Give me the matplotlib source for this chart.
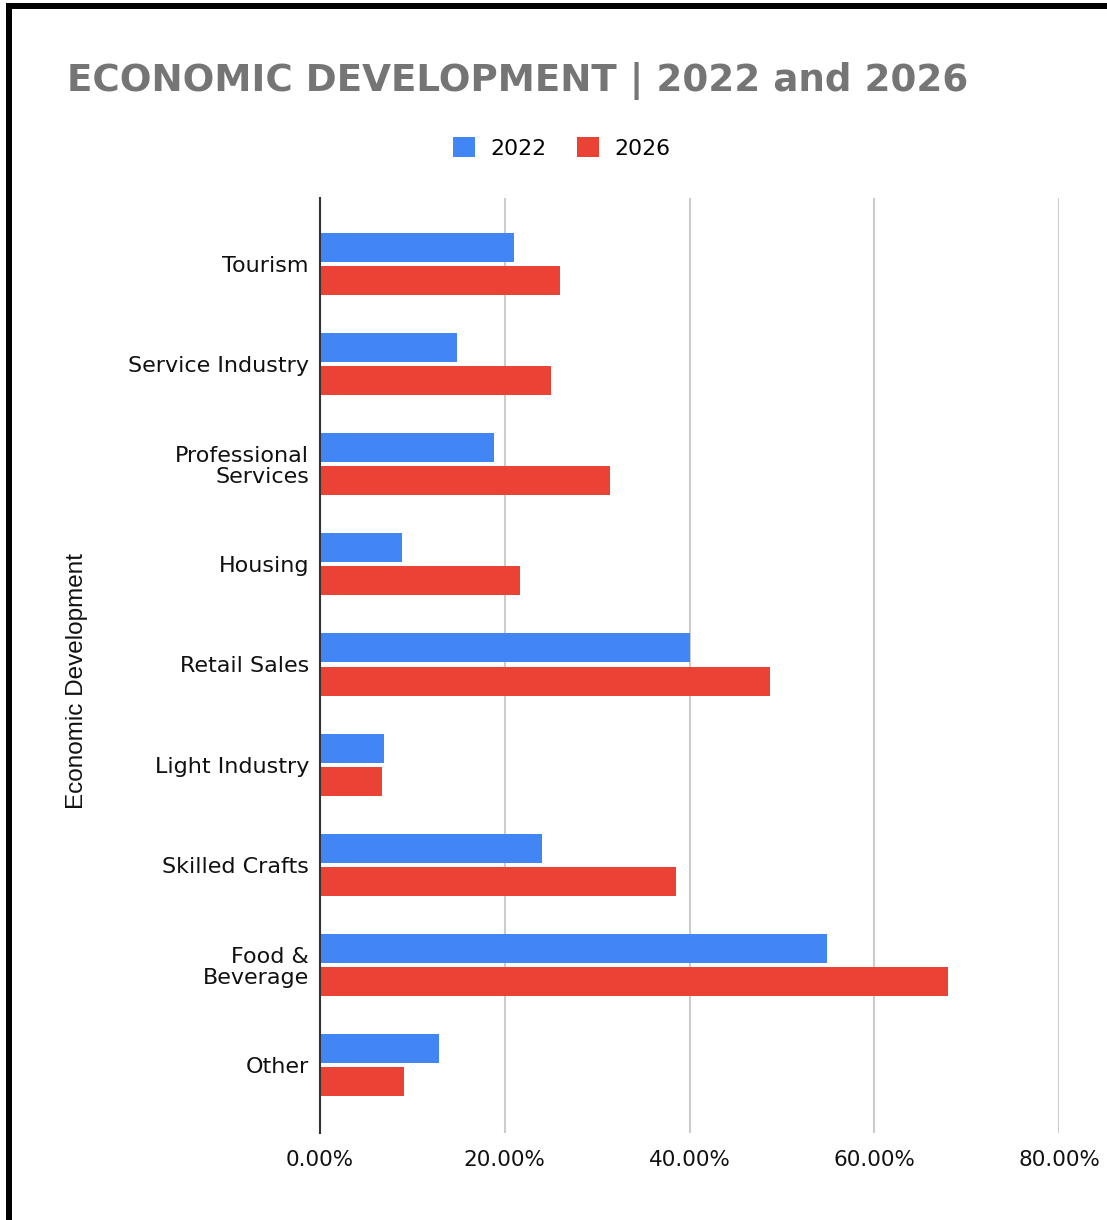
import matplotlib
matplotlib.use("Agg")
import matplotlib.pyplot as plt
from matplotlib.patches import Rectangle, Patch
from matplotlib.ticker import FuncFormatter
import numpy as np

# Sector data (share of respondents, %)
categories = ["Tourism", "Service Industry", "Professional\nServices", "Housing",
              "Retail Sales", "Light Industry", "Skilled Crafts", "Food &\nBeverage", "Other"]
values_2022 = [21.0, 14.8, 18.8, 8.9, 40.0, 6.9, 24.0, 54.9, 12.9]
values_2026 = [26.0, 25.0, 31.4, 21.7, 48.7, 6.7, 38.5, 68.0, 9.1]
series_labels = ["2022", "2026"]
x_ticks = [0, 20, 40, 60, 80]

BLUE = "#4285F4"
RED = "#EA4335"
W, H = 1107, 1220

fig = plt.figure(figsize=(W / 100, H / 100), dpi=100)
fig.patch.set_facecolor("white")

left, right, top, bottom = 320, 1059, 198, 1133
ax = fig.add_axes([left / W, 1 - bottom / H, (right - left) / W, (bottom - top) / H])

y = np.arange(len(categories))
bh = 0.29
off = 0.165
ax.barh(y - off, values_2022, height=bh, color=BLUE, zorder=3)
ax.barh(y + off, values_2026, height=bh, color=RED, zorder=3)

ax.set_xlim(0, 80)
ax.set_ylim(len(categories) - 1 + 0.68, -0.66)
ax.set_xticks(x_ticks)
ax.xaxis.set_major_formatter(FuncFormatter(lambda v, p: f"{v:.2f}%"))
ax.set_yticks(y)
ax.set_yticklabels(categories, fontsize=16, color="#111111", family="DejaVu Sans",
                   linespacing=1.05)
for lab in ax.get_xticklabels():
    lab.set_fontsize(15.5)
    lab.set_color("#111111")
ax.tick_params(axis="both", length=0)
ax.tick_params(axis="y", pad=8)
ax.tick_params(axis="x", pad=12)

ax.grid(axis="x", color="#cccccc", linewidth=1.5, zorder=0)
for s in ["top", "right", "bottom"]:
    ax.spines[s].set_visible(False)
ax.spines["left"].set_color("#333333")
ax.spines["left"].set_linewidth(1.5)
ax.spines["left"].set_zorder(4)

# Axis title
fig.text(77 / W, 1 - 681 / H, "Economic Development", rotation=90, ha="center", va="center",
         fontsize=17.5, family="Liberation Sans", color="#111111")

# Chart title
fig.text(67 / W, 1 - 81 / H, "ECONOMIC DEVELOPMENT | 2022 and 2026", ha="left", va="center",
         fontsize=26.8, fontweight="bold", color="#757575", family="DejaVu Sans")

# Legend
handles = [Patch(facecolor=BLUE, edgecolor="none"), Patch(facecolor=RED, edgecolor="none")]
fig.legend(handles, series_labels, loc="center", bbox_to_anchor=(562 / W, 1 - 148 / H),
           ncol=2, frameon=False, fontsize=15.8, handlelength=1.0, handleheight=1.0,
           handletextpad=0.7, columnspacing=1.4)

# Frame edges along the top and left
fig.add_artist(Rectangle((6 / W, 0), 6 / W, 1 - 3 / H, transform=fig.transFigure,
                         facecolor="black", edgecolor="none"))
fig.add_artist(Rectangle((6 / W, 1 - 9 / H), 1 - 6 / W, 6 / H, transform=fig.transFigure,
                         facecolor="black", edgecolor="none"))

fig.savefig("out.png", dpi=100, facecolor="white")
